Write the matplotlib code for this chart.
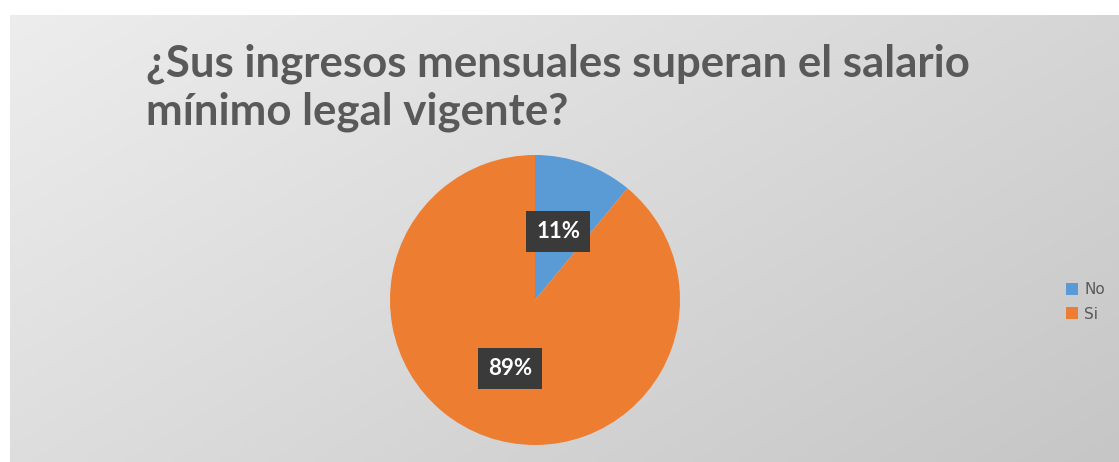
import numpy as np
import matplotlib
matplotlib.use("Agg")
import matplotlib.pyplot as plt

categories = ["No", "Si"]
values = [11, 89]
colors = ["#5B9BD5", "#ED7D31"]
label_pos = [(0.16, 0.475), (-0.17, -0.47)]

W, H = 1119, 462
fig = plt.figure(figsize=(W / 100, H / 100), dpi=100)
fig.patch.set_facecolor("white")

# chart area with diagonal grey gradient
bg = fig.add_axes([10 / W, 0, (W - 10) / W, (H - 15) / H])
yy, xx = np.mgrid[0:1:200j, 0:1:400j]
grad = 0.6 * xx + 0.4 * yy
bg.imshow(grad, cmap=matplotlib.colors.LinearSegmentedColormap.from_list(
    "g", ["#ededed", "#c6c6c6"]), aspect="auto", extent=[0, 1, 0, 1], origin="upper")
bg.set_axis_off()

fig.text(146 / W, 1 - 88 / H, "¿Sus ingresos mensuales superan el salario\nmínimo legal vigente?",
         fontsize=31.5, color="#595959", fontweight="bold", family="Lato",
         va="center", ha="left", linespacing=1.22)

ax = fig.add_axes([390 / W, 17 / H, 290 / W, 290 / H])
wedges, _ = ax.pie(values, colors=colors, startangle=90, counterclock=False,
                   radius=1, wedgeprops=dict(linewidth=0))
ax.set_xlim(-1, 1)
ax.set_ylim(-1, 1)
ax.set_aspect("equal")
ax.set_axis_off()

for v, (x, y) in zip(values, label_pos):
    ax.text(x, y, f"{v}%", color="white", fontsize=16, fontweight="bold", family="Lato",
            ha="center", va="center",
            bbox=dict(boxstyle="square,pad=0.45", facecolor="#3a3a3a", edgecolor="none"))

fig.legend(wedges, categories, loc="center left", bbox_to_anchor=(1052 / W, 1 - 302 / H),
           frameon=False, fontsize=11, handlelength=0.8, handleheight=0.8,
           handletextpad=0.4, labelspacing=0.6, labelcolor="#595959")

fig.savefig("out.png", dpi=100)
